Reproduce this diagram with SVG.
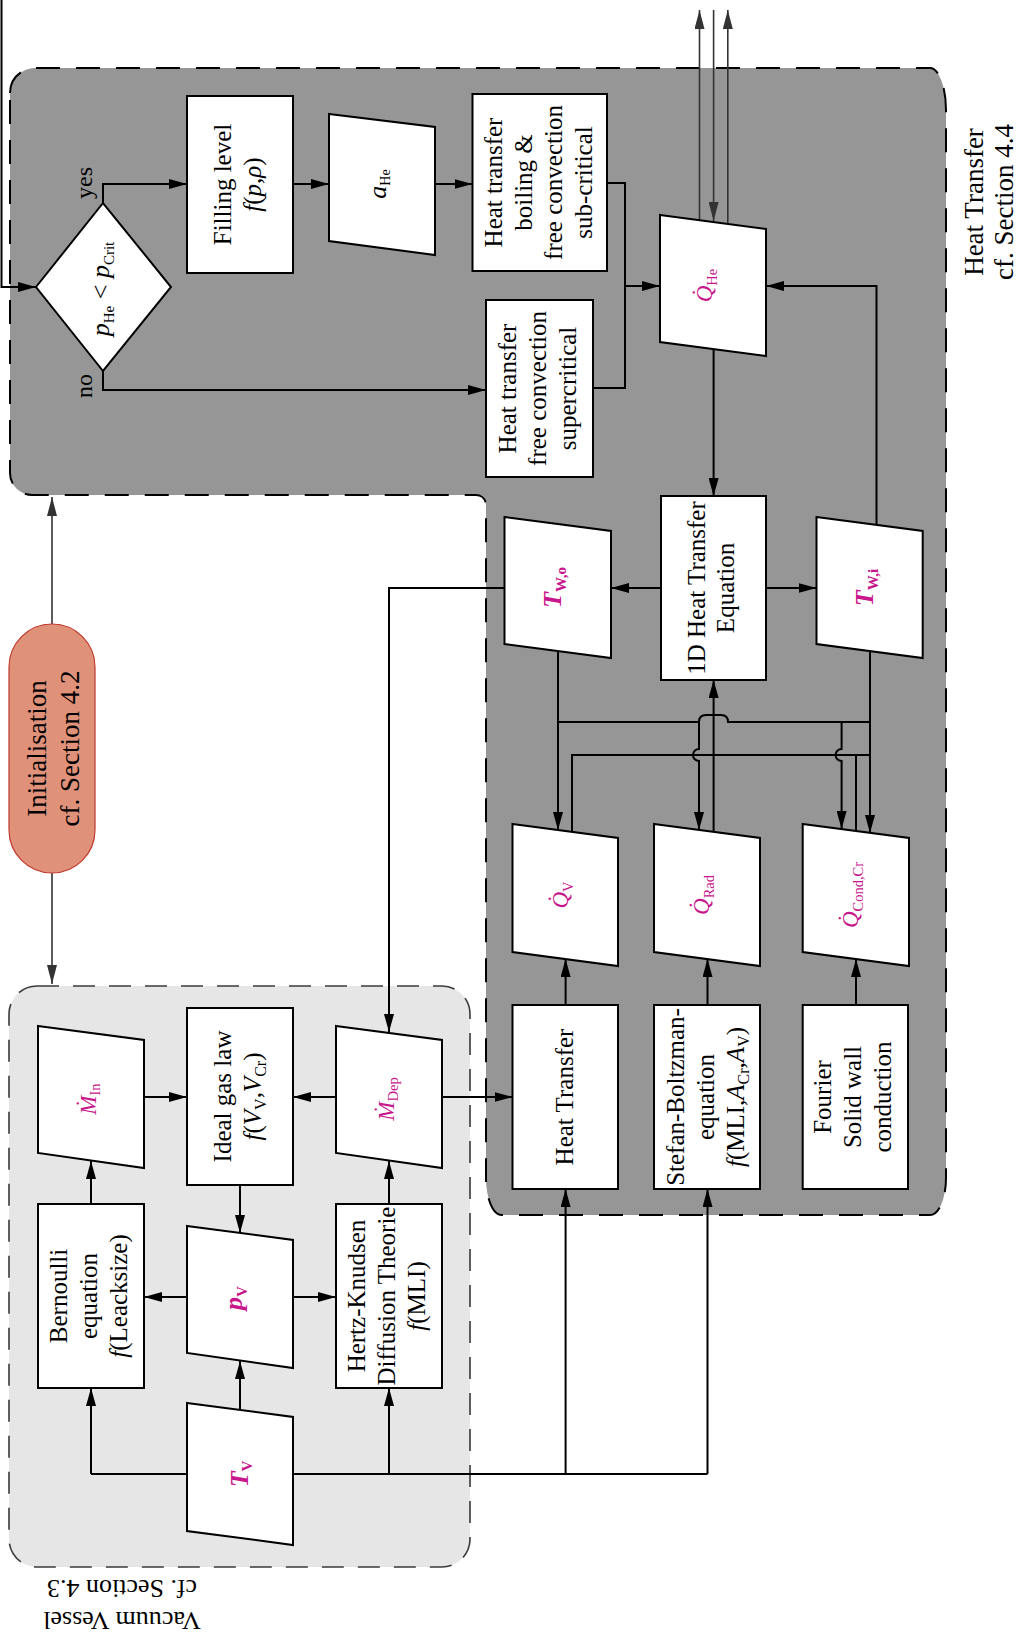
<svg xmlns="http://www.w3.org/2000/svg" width="1020" height="1638" viewBox="0 0 1020 1638">
<style>
.t{font-family:"Liberation Serif","Times New Roman",serif;font-size:25px;fill:#000}
.lbl{font-family:"Liberation Serif","Times New Roman",serif;font-size:27px;fill:#000}
.box{fill:#fff;stroke:#000;stroke-width:2}
.v{font-family:"Liberation Serif","Times New Roman",serif;fill:#C8168C;font-size:23px}
.vb{font-family:"Liberation Serif","Times New Roman",serif;fill:#C8168C;font-weight:bold;font-size:26px}
.c{fill:none;stroke:#000;stroke-width:2}
.cg{fill:none;stroke:#333;stroke-width:1.6}
.i{font-style:italic}
.s{font-size:16px}
.vs{font-size:14.5px}
.vbs{font-size:15px}
</style>
<defs>
<marker id="ah" markerUnits="userSpaceOnUse" markerWidth="18" markerHeight="10" refX="18" refY="5" orient="auto"><path d="M0,0 L18,5 L0,10 z" fill="#000"/></marker>
<marker id="ahg" markerUnits="userSpaceOnUse" markerWidth="19" markerHeight="10" refX="19" refY="5" orient="auto"><path d="M0,0 L19,5 L0,10 z" fill="#333"/></marker>
</defs>
<rect width="1020" height="1638" fill="#fff"/>

<g id="region-heat-transfer">
<path d="M10,93 A25,25 0 0 1 35,68 H930 A16,42 0 0 1 946,110 V1178 A16,37 0 0 1 930,1215 H502 A16,37 0 0 1 486,1178 V505 A10,10 0 0 0 476,495 H32 A22,22 0 0 1 10,473 Z" fill="#969696" stroke="#000" stroke-width="2" stroke-dasharray="24 16"/>
<text class="lbl" transform="translate(0,202) rotate(-90)" text-anchor="middle"><tspan x="0" y="983">Heat Transfer</tspan><tspan x="0" y="1013">cf. Section 4.4</tspan></text>
</g>

<g id="region-vacuum-vessel">
<rect x="9" y="986" width="461" height="581" rx="28" ry="28" fill="#E6E6E6" stroke="#3a3a3a" stroke-width="1.6" stroke-dasharray="22 14"/>
<text class="lbl" style="font-size:26px" transform="translate(122,0) rotate(180)" text-anchor="middle"><tspan x="0" y="-1612">Vacuum Vessel</tspan><tspan x="0" y="-1580">cf. Section 4.3</tspan></text>
</g>

<g id="connectors">
<path class="c" d="M1.5,0 V287 H36" marker-end="url(#ah)"/>
<path class="c" d="M103,203 V184 H187" marker-end="url(#ah)"/>
<path class="c" d="M103,371 V390 H486" marker-end="url(#ah)"/>
<path class="c" d="M293,184 H329" marker-end="url(#ah)"/>
<path class="c" d="M435,184 H472.5" marker-end="url(#ah)"/>
<path class="c" d="M607,183 H625 V388 H593"/>
<path class="c" d="M625,286 H660" marker-end="url(#ah)"/>
<path class="cg" d="M699.5,220 V10" marker-end="url(#ahg)"/>
<path class="cg" d="M727.8,224 V10" marker-end="url(#ahg)"/>
<path class="cg" d="M713.6,10 V221" marker-end="url(#ahg)"/>
<path class="c" d="M713.6,349 V496" marker-end="url(#ah)"/>
<path class="c" d="M661,588 H611" marker-end="url(#ah)"/>
<path class="c" d="M766,588 H816.5" marker-end="url(#ah)"/>
<path class="c" d="M876.5,525 V286 H766" marker-end="url(#ah)"/>
<path class="c" d="M504.5,588 H389 V1032" marker-end="url(#ah)"/>
<path class="c" d="M558,651 V830" marker-end="url(#ah)"/>
<path class="c" d="M558,722 H699 Q699,715 706,715 H721 Q728,715 728,722 H870"/>
<path class="c" d="M870,651 V833" marker-end="url(#ah)"/>
<path class="c" d="M699,722 V749 A6,6 0 0 0 699,761 V830" marker-end="url(#ah)"/>
<path class="c" d="M841.6,722 V749 A6,6 0 0 0 841.6,761 V829" marker-end="url(#ah)"/>
<path class="c" d="M572,832 V755 H870"/>
<path class="c" d="M856,831 V755"/>
<path class="c" d="M713.6,832 V680" marker-end="url(#ah)"/>
<path class="c" d="M565.6,1005 V959" marker-end="url(#ah)"/>
<path class="c" d="M707.5,1005 V959" marker-end="url(#ah)"/>
<path class="c" d="M856,1005 V959" marker-end="url(#ah)"/>
<path class="c" d="M442,1097 H512.5" marker-end="url(#ah)"/>
<path class="c" d="M144,1097 H187" marker-end="url(#ah)"/>
<path class="c" d="M336,1097 H293" marker-end="url(#ah)"/>
<path class="c" d="M240,1185 V1233" marker-end="url(#ah)"/>
<path class="c" d="M91,1204 V1161" marker-end="url(#ah)"/>
<path class="c" d="M389,1204 V1161" marker-end="url(#ah)"/>
<path class="c" d="M187,1297 H144" marker-end="url(#ah)"/>
<path class="c" d="M293,1297 H336" marker-end="url(#ah)"/>
<path class="c" d="M240,1410 V1361" marker-end="url(#ah)"/>
<path class="c" d="M91,1474 H707.5"/>
<path class="c" d="M91,1474 V1388" marker-end="url(#ah)"/>
<path class="c" d="M389,1474 V1388" marker-end="url(#ah)"/>
<path class="c" d="M565.6,1474 V1189" marker-end="url(#ah)"/>
<path class="c" d="M707.5,1474 V1189" marker-end="url(#ah)"/>
<path class="cg" d="M52,624 V497" marker-end="url(#ahg)"/>
<path class="cg" d="M52,873 V984" marker-end="url(#ahg)"/>
</g>

<g id="decision">
<polygon class="box" points="36,287 103,203 171,287 103,371"/>
<text class="t" style="font-size:26px" transform="translate(0,289) rotate(-90)" text-anchor="middle"><tspan x="0" y="109" class="i">p</tspan><tspan style="font-size:15px" dy="5">He</tspan><tspan dy="-5"> &lt; </tspan><tspan class="i">p</tspan><tspan style="font-size:15px" dy="5">Crit</tspan></text>
<text class="t" style="font-size:24px" transform="translate(0,183) rotate(-90)" text-anchor="middle"><tspan x="0" y="92">yes</tspan></text>
<text class="t" style="font-size:24px" transform="translate(0,386) rotate(-90)" text-anchor="middle"><tspan x="0" y="92">no</tspan></text>
</g>

<g id="filling-level">
<rect class="box" x="187" y="96" width="106" height="177"/>
<text class="t" transform="translate(0,184.5) rotate(-90)" text-anchor="middle"><tspan x="0" y="231">Filling level</tspan><tspan x="0" y="261"><tspan class="i">f</tspan>(<tspan class="i">p</tspan>,<tspan class="i">ρ</tspan>)</tspan></text>
</g>

<g id="a-he">
<polygon class="box" points="329,114 435,127 435,255 329,241"/>
<text class="t" transform="translate(0,184) rotate(-90)" text-anchor="middle"><tspan x="0" y="386" class="i" style="font-size:26px">a</tspan><tspan style="font-size:14px" dy="4">He</tspan></text>
</g>

<g id="ht-subcritical">
<rect class="box" x="472.5" y="94" width="134.5" height="177"/>
<text class="t" transform="translate(0,182.5) rotate(-90)" text-anchor="middle"><tspan x="0" y="502">Heat transfer</tspan><tspan x="0" y="532">boiling &amp;</tspan><tspan x="0" y="562">free convection</tspan><tspan x="0" y="592">sub-critical</tspan></text>
</g>

<g id="ht-supercritical">
<rect class="box" x="486" y="300" width="107" height="177"/>
<text class="t" transform="translate(0,388.5) rotate(-90)" text-anchor="middle"><tspan x="0" y="516">Heat transfer</tspan><tspan x="0" y="546">free convection</tspan><tspan x="0" y="576">supercritical</tspan></text>
</g>

<g id="q-he">
<polygon class="box" points="660,215 766,229 766,356 660,342"/>
<text class="v" transform="translate(0,285.5) rotate(-90)" text-anchor="middle"><tspan x="0" y="712" class="i">Q̇</tspan><tspan class="vs" dy="5">He</tspan></text>
</g>

<g id="eq-1d">
<rect class="box" x="661" y="496" width="105" height="184"/>
<text class="t" transform="translate(0,588) rotate(-90)" text-anchor="middle"><tspan x="0" y="705">1D Heat Transfer</tspan><tspan x="0" y="734">Equation</tspan></text>
</g>

<g id="t-wo">
<polygon class="box" points="504.5,517 611,531 611,658 504.5,644"/>
<text class="vb" transform="translate(0,587.5) rotate(-90)" text-anchor="middle"><tspan x="0" y="561" class="i">T</tspan><tspan class="vbs" dy="5">W,o</tspan></text>
</g>

<g id="t-wi">
<polygon class="box" points="816.5,517 922.7,531 922.7,658 816.5,644"/>
<text class="vb" transform="translate(0,587.5) rotate(-90)" text-anchor="middle"><tspan x="0" y="873" class="i">T</tspan><tspan class="vbs" dy="5">W,i</tspan></text>
</g>

<g id="q-v">
<polygon class="box" points="512.5,824 618,838 618,966 512.5,952"/>
<text class="v" transform="translate(0,895) rotate(-90)" text-anchor="middle"><tspan x="0" y="568" class="i">Q̇</tspan><tspan class="vs" dy="5">V</tspan></text>
</g>

<g id="q-rad">
<polygon class="box" points="654,824 760,838 760,966 654,952"/>
<text class="v" transform="translate(0,895) rotate(-90)" text-anchor="middle"><tspan x="0" y="709" class="i">Q̇</tspan><tspan class="vs" dy="5">Rad</tspan></text>
</g>

<g id="q-cond">
<polygon class="box" points="802.7,824 909,838 909,966 802.7,952"/>
<text class="v" transform="translate(0,895) rotate(-90)" text-anchor="middle"><tspan x="0" y="858" class="i">Q̇</tspan><tspan class="vs" dy="5">Cond,Cr</tspan></text>
</g>

<g id="heat-transfer">
<rect class="box" x="512.5" y="1005" width="105.5" height="184"/>
<text class="t" transform="translate(0,1097) rotate(-90)" text-anchor="middle"><tspan x="0" y="573">Heat Transfer</tspan></text>
</g>

<g id="stefan-boltzmann">
<rect class="box" x="654" y="1005" width="106" height="184"/>
<text class="t" transform="translate(0,1097) rotate(-90)" text-anchor="middle"><tspan x="0" y="684">Stefan-Boltzman-</tspan><tspan x="0" y="714">equation</tspan><tspan x="0" y="744"><tspan class="i">f</tspan>(MLI,<tspan class="i">A</tspan><tspan class="s" dy="5">Cr</tspan><tspan dy="-5">,</tspan><tspan class="i">A</tspan><tspan class="s" dy="5">V</tspan><tspan dy="-5">)</tspan></tspan></text>
</g>

<g id="fourier">
<rect class="box" x="802.7" y="1005" width="105.3" height="184"/>
<text class="t" transform="translate(0,1097) rotate(-90)" text-anchor="middle"><tspan x="0" y="831">Fourier</tspan><tspan x="0" y="861">Solid wall</tspan><tspan x="0" y="891">conduction</tspan></text>
</g>

<g id="m-in">
<polygon class="box" points="38,1026 144,1040 144,1168 38,1153"/>
<text class="v" transform="translate(0,1099) rotate(-90)" text-anchor="middle"><tspan x="0" y="96" class="i">Ṁ</tspan><tspan class="vs" dy="4">In</tspan></text>
</g>

<g id="ideal-gas">
<rect class="box" x="187" y="1008" width="106" height="177"/>
<text class="t" transform="translate(0,1096.5) rotate(-90)" text-anchor="middle"><tspan x="0" y="231">Ideal gas law</tspan><tspan x="0" y="261"><tspan class="i">f</tspan>(<tspan class="i">V</tspan><tspan class="s" dy="5">V</tspan><tspan dy="-5">,</tspan><tspan class="i">V</tspan><tspan class="s" dy="5">Cr</tspan><tspan dy="-5">)</tspan></tspan></text>
</g>

<g id="m-dep">
<polygon class="box" points="336,1026 442,1040 442,1168 336,1153"/>
<text class="v" transform="translate(0,1099) rotate(-90)" text-anchor="middle"><tspan x="0" y="394" class="i">Ṁ</tspan><tspan class="vs" dy="4">Dep</tspan></text>
</g>

<g id="bernoulli">
<rect class="box" x="38" y="1204" width="106" height="184"/>
<text class="t" transform="translate(0,1296) rotate(-90)" text-anchor="middle"><tspan x="0" y="67">Bernoulli</tspan><tspan x="0" y="97">equation</tspan><tspan x="0" y="127"><tspan class="i">f</tspan>(Leacksize)</tspan></text>
</g>

<g id="p-v">
<polygon class="box" points="187,1226 293,1240 293,1368 187,1353"/>
<text class="vb" transform="translate(0,1298) rotate(-90)" text-anchor="middle"><tspan x="0" y="242" class="i">p</tspan><tspan class="vbs" dy="5">V</tspan></text>
</g>

<g id="hertz-knudsen">
<rect class="box" x="336" y="1204" width="106" height="184"/>
<text class="t" transform="translate(0,1296) rotate(-90)" text-anchor="middle"><tspan x="0" y="365">Hertz-Knudsen</tspan><tspan x="0" y="395">Diffusion Theorie</tspan><tspan x="0" y="425"><tspan class="i">f</tspan>(MLI)</tspan></text>
</g>

<g id="t-v">
<polygon class="box" points="187,1403 293,1417 293,1545 187,1531"/>
<text class="vb" transform="translate(0,1474) rotate(-90)" text-anchor="middle"><tspan x="0" y="248" class="i">T</tspan><tspan class="vbs" dy="4">V</tspan></text>
</g>

<g id="initialisation">
<rect x="9" y="624" width="86" height="249" rx="43" ry="43" fill="#DF917A" stroke="#C0392B" stroke-width="1.2"/>
<text class="lbl" transform="translate(0,748.5) rotate(-90)" text-anchor="middle"><tspan x="0" y="46">Initialisation</tspan><tspan x="0" y="79">cf. Section 4.2</tspan></text>
</g>
</svg>
